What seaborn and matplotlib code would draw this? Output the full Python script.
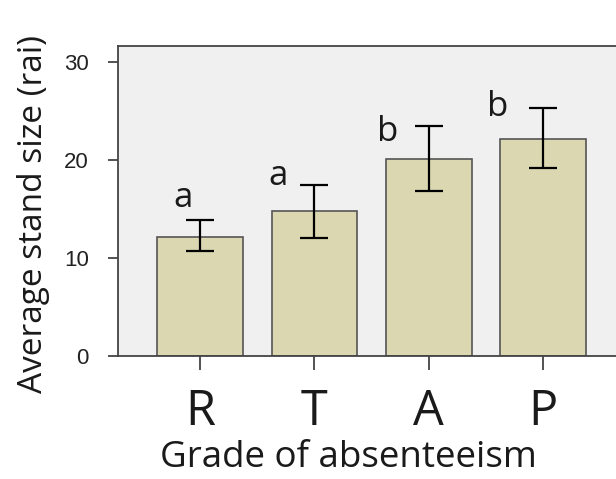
import numpy as np
import pandas as pd
import matplotlib
matplotlib.use("Agg")
import matplotlib.pyplot as plt
import seaborn as sns

# Data
grades = ["R", "T", "A", "P"]
means = [12.2, 14.8, 20.1, 22.2]
err_low = [10.7, 12.1, 16.9, 19.2]
err_high = [13.9, 17.5, 23.5, 25.3]
letters = ["a", "a", "b", "b"]

# annotation placement for the significance letters (data coordinates)
letter_dx = [-0.15, -0.32, -0.36, -0.40]
letter_y = [15.2, 17.45, 22.0, 24.5]

sns.set_theme(style="white")
plt.rcParams["font.family"] = ["Open Sans", "DejaVu Sans"]

df = pd.DataFrame({"grade": grades, "mean": means})

fig = plt.figure(figsize=(6.16, 4.79), dpi=100)
ax = fig.add_axes([118 / 616, 1 - 356 / 479, (625 - 118) / 616, (356 - 45.7) / 479])
ax.set_facecolor("#f0f0f0")

sns.barplot(data=df, x="grade", y="mean", order=grades, color="#dbd7b0",
            saturation=1, edgecolor="#555555", linewidth=1.2, width=0.75,
            errorbar=None, ax=ax)

m = np.array(means)
lo = m - np.array(err_low)
hi = np.array(err_high) - m
ax.errorbar(np.arange(len(grades)), m, yerr=[lo, hi], fmt="none",
            ecolor="black", elinewidth=1.6, capsize=10, capthick=1.6)

for i, lab in enumerate(letters):
    ax.text(i + letter_dx[i], letter_y[i], lab,
            ha="center", va="baseline", fontsize=25, color="#1a1a1a",
            family=["Open Sans", "DejaVu Sans"])

ax.set_xlim(-0.717, 3.715)
ax.set_ylim(0, 31.7)
ax.set_yticks([0, 10, 20, 30])
ax.set_yticklabels(["0", "10", "20", "30"], family=["Liberation Sans", "DejaVu Sans"],
                   fontsize=16, color="#222222")
ax.set_xticks(range(len(grades)))
ax.set_xticklabels(grades, fontsize=35, color="#1a1a1a")

ax.tick_params(axis="y", direction="out", length=7, width=1.3, color="#444444", pad=14, left=True)
ax.tick_params(axis="x", direction="out", length=10, width=1.3, color="#444444", pad=13, bottom=True)

for side in ["left", "bottom", "top", "right"]:
    ax.spines[side].set_color("#444444")
    ax.spines[side].set_linewidth(1.3)

ax.set_xlabel("Grade of absenteeism", fontsize=26.5, color="#1a1a1a")
ax.set_ylabel("Average stand size (rai)", fontsize=24, color="#1a1a1a")
ax.xaxis.label.set_va("baseline")
ax.xaxis.set_label_coords((348 - 118) / (625 - 118), -(467 - 356) / (356 - 45.7))
ax.yaxis.set_label_coords((50 - 118) / (625 - 118), (356 - 214) / (356 - 45.7))

fig.savefig("out.png", dpi=100, facecolor="white")
